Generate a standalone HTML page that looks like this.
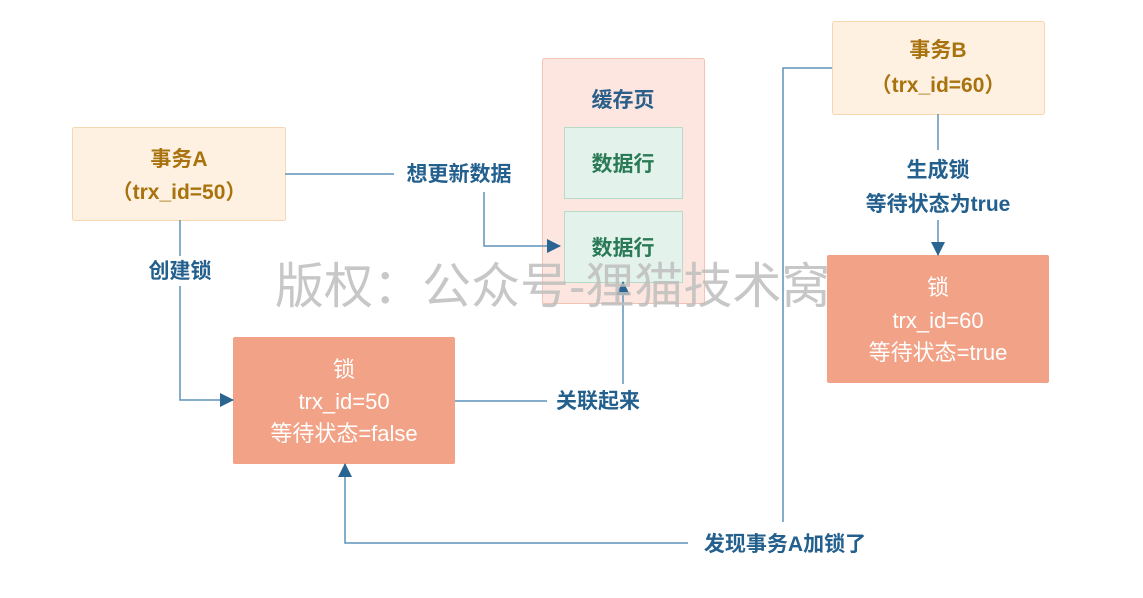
<!DOCTYPE html>
<html><head><meta charset="utf-8"><style>
body{margin:0;background:#fff;width:1143px;height:593px;overflow:hidden;font-family:"Liberation Sans","Noto Sans CJK SC",sans-serif}
</style></head><body>
<svg width="1143" height="593" xmlns="http://www.w3.org/2000/svg" font-family="Liberation Sans, Noto Sans CJK SC, sans-serif">
<defs><marker id="a" markerWidth="14" markerHeight="14" refX="13" refY="7" orient="auto" markerUnits="userSpaceOnUse"><path d="M0,0 L14,7 L0,14 z" fill="#2a6592"/></marker></defs>
<rect x="72.5" y="127.5" width="213" height="93" rx="2" fill="#fef1e1" stroke="#f8d7b0"/>
<rect x="542.5" y="58.5" width="162" height="245" rx="2" fill="#fce6df" stroke="#f5c3b3"/>
<rect x="564.5" y="127.5" width="118" height="71" fill="#e3f3ec" stroke="#b6dcc9"/>
<rect x="564.5" y="211.5" width="118" height="71" fill="#e3f3ec" stroke="#b6dcc9"/>
<rect x="233" y="337" width="222" height="127" rx="2" fill="#f2a286"/>
<rect x="832.5" y="21.5" width="212" height="93" rx="2" fill="#fef1e1" stroke="#f8d7b0"/>
<rect x="827" y="255" width="222" height="128" rx="2" fill="#f2a286"/>
<g stroke="#5f93b8" stroke-width="1.5" fill="none">
<path d="M285,174 H394"/>
<path d="M484,192 V246 H560" marker-end="url(#a)"/>
<path d="M180,220 V256"/>
<path d="M180,286 V400 H233" marker-end="url(#a)"/>
<path d="M455,401 H547"/>
<path d="M623,384 V282" marker-end="url(#a)"/>
<path d="M832,68 H783 V522"/>
<path d="M688,543 H345 V464" marker-end="url(#a)"/>
<path d="M938,114 V150"/>
<path d="M938,220 V255" marker-end="url(#a)"/>
</g>
<text x="275" y="303" font-size="49" fill="#bdbdbd" fill-opacity="0.85">版权：公众号-狸猫技术窝</text>
<g font-size="21" font-weight="bold" text-anchor="middle">
<text x="179" y="166" fill="#a8730f">事务A</text>
<text x="179" y="199" fill="#a8730f">（trx_id=50）</text>
<text x="623" y="107" fill="#2b5f8a">缓存页</text>
<text x="623" y="171" fill="#2b7a56">数据行</text>
<text x="623" y="255" fill="#2b7a56">数据行</text>
<text x="938" y="57" fill="#a8730f">事务B</text>
<text x="938" y="92" fill="#a8730f">（trx_id=60）</text>
</g>
<g font-size="22" text-anchor="middle" fill="#fff">
<text x="344" y="377">锁</text>
<text x="344" y="409">trx_id=50</text>
<text x="344" y="441">等待状态=false</text>
<text x="938" y="295">锁</text>
<text x="938" y="328">trx_id=60</text>
<text x="938" y="360">等待状态=true</text>
</g>
<g font-size="21" font-weight="bold" fill="#24608e" text-anchor="middle">
<text x="459" y="181">想更新数据</text>
<text x="180" y="278">创建锁</text>
<text x="598" y="408">关联起来</text>
<text x="785" y="551">发现事务A加锁了</text>
<text x="938" y="177">生成锁</text>
<text x="938" y="211">等待状态为true</text>
</g>
</svg>
</body></html>
